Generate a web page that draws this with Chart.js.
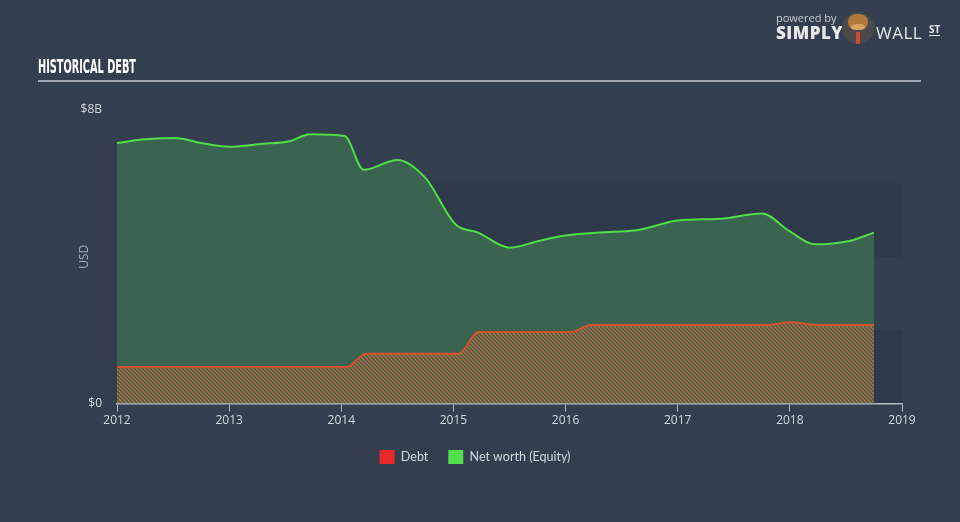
<!DOCTYPE html>
<html>
<head>
<meta charset="utf-8">
<script src="https://cdn.jsdelivr.net/npm/chart.js@4"></script>
<style>
  html, body { margin: 0; padding: 0; background: #333f4f; }
  #wrap { position: relative; width: 960px; height: 522px; background: #333f4f; overflow: hidden; }
  #c { position: absolute; left: 0; top: 0; }
  #title { position: absolute; left: 38px; top: 55px; color: #ffffff; font-family: "DejaVu Sans Condensed", "Liberation Sans Narrow", sans-serif; font-weight: bold; font-size: 19px; white-space: nowrap; transform-origin: left; }
  #rule { position: absolute; left: 38px; top: 80px; width: 883px; height: 2px; background: #a3a9b2; }
  #pw { position: absolute; left: 776px; top: 10px; color: #c9ccd1; font-family: "Open Sans", sans-serif; font-size: 11px; }
  #simply { position: absolute; left: 776px; top: 21px; color: #e6e8ea; font-family: "Open Sans", sans-serif; font-weight: 800; font-size: 17px; letter-spacing: 0.5px; }
  #wall { position: absolute; left: 876px; top: 21px; color: #e6e8ea; font-family: "Open Sans", sans-serif; font-weight: 400; font-size: 17px; letter-spacing: 0.5px; }
  #st { position: absolute; left: 929px; top: 24px; color: #e6e8ea; font-family: "Open Sans", sans-serif; font-weight: 700; font-size: 10px; border-bottom: 1.5px solid #e6e8ea; line-height: 11px; }
  #bull { position: absolute; left: 842px; top: 12px; width: 32px; height: 32px; border-radius: 50%; background: #4a4a4a; overflow: hidden; }
  #head { position: absolute; left: 6px; top: 2px; width: 20px; height: 16px; border-radius: 45%; background: #b07a3a; }
  #snout { position: absolute; left: 9px; top: 12px; width: 14px; height: 6px; border-radius: 40%; background: #d9a35e; }
  #tie { position: absolute; left: 14px; top: 20px; width: 4px; height: 12px; background: #d24a2a; }
</style>
</head>
<body>
<div id="wrap">
  <canvas id="c" width="960" height="522"></canvas>
  <div id="title">HISTORICAL DEBT</div>
  <div id="rule"></div>
  <div id="pw">powered by</div>
  <div id="simply">SIMPLY</div>
  <div id="bull"><div id="head"></div><div id="snout"></div><div id="tie"></div></div>
  <div id="wall">WALL</div>
  <div id="st">ST</div>
</div>
<script>
// ---- Data (values in $ billions, x in decimal years) ----
const debtYears  = [2012.0, 2012.5, 2013.0, 2013.5, 2014.0, 2014.05, 2014.22, 2014.5, 2014.8, 2015.0, 2015.05, 2015.22, 2015.5, 2015.75, 2016.0, 2016.05, 2016.22, 2016.5, 2017.0, 2017.5, 2017.8, 2018.0, 2018.25, 2018.5, 2018.75];
const debtValues = [1.0,    1.0,    1.0,    1.0,    1.0,    1.0,     1.36,    1.36,   1.36,   1.36,   1.36,    1.95,    1.95,   1.95,    1.95,   1.95,    2.14,    2.14,   2.14,   2.14,   2.14,   2.22,   2.14,    2.14,   2.14];

const equityYears  = [2012.0, 2012.25, 2012.52, 2012.75, 2013.0, 2013.3, 2013.54, 2013.72, 2014.03, 2014.2, 2014.5, 2014.75, 2015.02, 2015.22, 2015.5, 2015.77, 2016.0, 2016.3, 2016.66, 2017.0, 2017.38, 2017.75, 2018.0, 2018.22, 2018.54, 2018.75];
const equityValues = [7.1,    7.2,     7.24,    7.1,     7.0,    7.08,   7.15,    7.34,    7.29,    6.37,   6.64,   6.15,    4.88,    4.66,    4.25,   4.44,    4.58,   4.66,   4.74,    4.99,   5.04,    5.18,    4.69,   4.34,    4.44,    4.66];

const yTickLabels = {0: '$0', 8: '$8B'};
const xMin = 2012, xMax = 2019, yMin = 0, yMax = 8;

function pts(xs, ys) { return xs.map((x, i) => ({x: x, y: ys[i]})); }

// fit title width
(function () {
  const t = document.getElementById('title');
  const w = t.getBoundingClientRect().width;
  t.style.transform = 'scaleX(' + (98 / w) + ')';
})();

// hatch pattern for debt area
function makeHatch() {
  const p = document.createElement('canvas');
  p.width = 4; p.height = 4;
  const g = p.getContext('2d');
  g.fillStyle = '#3a6350';
  g.fillRect(0, 0, 4, 4);
  g.strokeStyle = '#b8683e';
  g.lineWidth = 1.4;
  g.beginPath();
  g.moveTo(-1, -1); g.lineTo(5, 5);
  g.moveTo(3, -1); g.lineTo(5, 1);
  g.moveTo(-1, 3); g.lineTo(1, 5);
  g.stroke();
  return document.getElementById('c').getContext('2d').createPattern(p, 'repeat');
}

const bandsPlugin = {
  id: 'bands',
  beforeDraw(chart) {
    const {ctx, chartArea, scales} = chart;
    const y = scales.y;
    ctx.save();
    ctx.fillStyle = '#2e394a';
    [[0, 2], [4, 6]].forEach(([a, b]) => {
      const top = y.getPixelForValue(b), bot = y.getPixelForValue(a);
      ctx.fillRect(chartArea.left, top, chartArea.right - chartArea.left, bot - top);
    });
    ctx.restore();
  }
};

// centre the legend on the page like the reference
const legendShift = {
  id: 'legendShift',
  afterLayout(chart) {
    const l = chart.legend;
    if (!l) return;
    const shift = 475 - (l.left + l.right) / 2;
    l.left += shift; l.right += shift;
  }
};

const FONT = '"Open Sans", "Lato", sans-serif';

new Chart(document.getElementById('c'), {
  type: 'line',
  data: {
    datasets: [
      {
        label: 'Debt',
        data: pts(debtYears, debtValues),
        borderColor: '#d4502e',
        borderWidth: 2,
        backgroundColor: makeHatch(),
        fill: 'origin',
        pointRadius: 0,
        cubicInterpolationMode: 'monotone'
      },
      {
        label: 'Net worth (Equity)',
        data: pts(equityYears, equityValues),
        borderColor: '#4fdd48',
        borderWidth: 2,
        backgroundColor: '#3a6350',
        fill: 'origin',
        pointRadius: 0,
        cubicInterpolationMode: 'monotone'
      }
    ]
  },
  options: {
    responsive: false,
    animation: false,
    layout: { padding: { left: 77, right: 58, top: 110, bottom: 48 } },
    scales: {
      x: {
        type: 'linear',
        min: xMin, max: xMax,
        ticks: { stepSize: 1, color: '#d5d9de', font: { family: FONT, size: 12 }, padding: 2, callback: v => String(v) },
        grid: { drawOnChartArea: false, drawTicks: true, tickLength: 8, color: '#b4bac2', lineWidth: 1 },
        border: { display: true, color: '#b4bac2', width: 1.5 }
      },
      y: {
        min: yMin, max: yMax,
        afterFit(s) { s.width = 40; },
        afterBuildTicks(s) { s.ticks = [{value: 0}, {value: 8}]; },
        ticks: { color: '#d5d9de', font: { family: FONT, size: 12 }, padding: 7, callback: v => yTickLabels[v] },
        grid: { display: false },
        border: { display: false },
        title: { display: true, text: 'USD', color: '#a9afb7', font: { family: FONT, size: 12 }, padding: { top: 0, bottom: 0 } }
      }
    },
    plugins: {
      legend: {
        position: 'bottom',
        labels: {
          color: '#d5d9de',
          font: { family: '"Lato", sans-serif', size: 12.5 },
          boxWidth: 15, boxHeight: 14, padding: 20,
          generateLabels(chart) {
            const cols = ['#e8282b', '#4fe04a'];
            return chart.data.datasets.map((d, i) => ({
              text: d.label, fillStyle: cols[i], strokeStyle: cols[i], lineWidth: 0,
              fontColor: '#d5d9de', datasetIndex: i, hidden: false
            }));
          }
        }
      },
      tooltip: { enabled: false }
    }
  },
  plugins: [bandsPlugin, legendShift]
});
</script>
</body>
</html>
